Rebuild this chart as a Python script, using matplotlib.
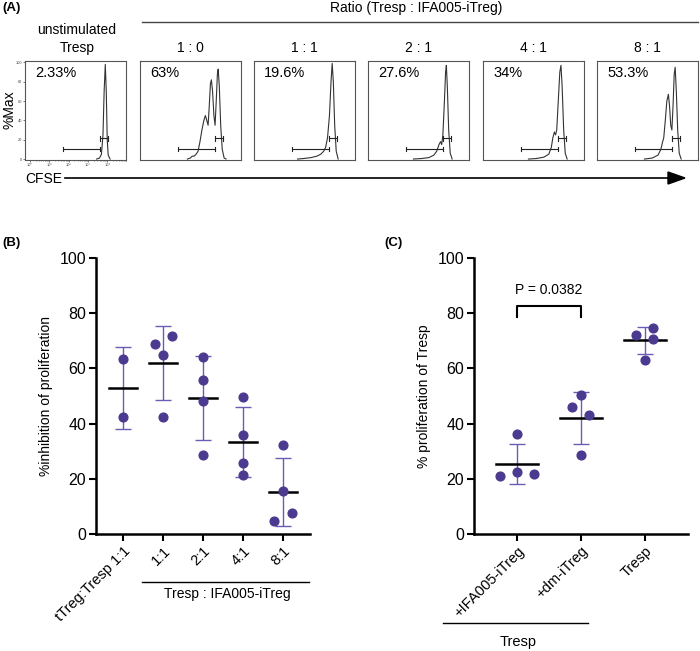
import matplotlib.pyplot as plt
import numpy as np

plt.rcParams['font.family'] = ['Liberation Sans', 'DejaVu Sans']

# ---- panel A: CFSE histograms (x in log10 units, y in %Max) ----
hist_titles = ['unstimulated\nTresp', '1 : 0', '1 : 1', '2 : 1', '4 : 1', '8 : 1']
hist_pcts = ['2.33%', '63%', '19.6%', '27.6%', '34%', '53.3%']
hist_x = [
    [3.45, 3.6, 3.7, 3.78, 3.84, 3.9, 3.95, 4.0, 4.05, 4.15],
    [2.2, 2.35, 2.45, 2.55, 2.65, 2.75, 2.85, 2.95, 3.05, 3.13, 3.2, 3.27, 3.33,
     3.39, 3.44, 3.5, 3.57, 3.63, 3.69, 3.75, 3.79, 3.85, 3.92, 4.0, 4.1, 4.2],
    [2.0, 2.3, 2.7, 3.0, 3.2, 3.35, 3.45, 3.55, 3.65, 3.73, 3.79, 3.85, 3.92, 4.0, 4.1],
    [2.1, 2.5, 2.9, 3.15, 3.3, 3.42, 3.5, 3.56, 3.62, 3.7, 3.76, 3.8, 3.85, 3.92, 4.0, 4.1],
    [2.1, 2.5, 2.9, 3.15, 3.28, 3.36, 3.44, 3.5, 3.56, 3.64, 3.72, 3.78, 3.84, 3.92, 4.0, 4.1],
    [2.2, 2.6, 2.9, 3.05, 3.13, 3.2, 3.28, 3.36, 3.44, 3.5, 3.56, 3.62, 3.68, 3.74,
     3.79, 3.85, 3.92, 4.0, 4.1],
]
hist_y = [
    [0, 1, 5, 25, 70, 98, 70, 20, 4, 0],
    [0, 1, 3, 3, 5, 8, 18, 30, 40, 45, 40, 35, 55, 78, 82, 70, 45, 35, 60, 88, 93, 75,
     35, 10, 1, 0],
    [0, 0.5, 1.5, 3, 5, 8, 12, 22, 45, 80, 99, 80, 35, 8, 0],
    [0, 0.5, 1.5, 4, 8, 15, 18, 15, 25, 60, 90, 97, 75, 30, 6, 0],
    [0, 0.5, 2, 5, 12, 22, 28, 25, 30, 60, 90, 97, 75, 30, 6, 0],
    [0, 1, 4, 10, 17, 22, 40, 60, 67, 55, 35, 30, 55, 88, 95, 70, 30, 6, 0],
]
gate_long = [1.69, 3.64]
gate_short = [3.64, 4.05]
gate_y = [10.3, 21.6]

# ---- panel B ----
b_labels = ['tTreg:Tresp 1:1', '1:1', '2:1', '4:1', '8:1']
b_points = [[63.5, 42.5], [69.0, 65.0, 71.6, 42.5], [64.1, 55.9, 48.3, 28.5],
            [49.8, 36.0, 25.6, 21.3], [32.2, 15.6, 7.6, 4.8]]
b_jitter = [[0, 0], [-0.2, 0, 0.23, 0], [0, 0, 0, 0], [0, 0, 0, 0], [0, 0, 0.22, -0.22]]

# ---- panel C ----
c_labels = ['+IFA005-iTreg', '+dm-iTreg', 'Tresp']
c_points = [[36.2, 22.5, 20.9, 21.9], [50.5, 45.9, 43.0, 28.5], [74.6, 72.2, 70.7, 63.2]]
c_jitter = [[0, 0, -0.27, 0.27], [0, -0.14, 0.13, 0], [0.13, -0.14, 0.13, 0]]

dot_color = '#4b3a8f'
err_color = '#6a5cb5'

W, H = 700, 651
fig = plt.figure(figsize=(7.0, 6.51), dpi=100)


def px_axes(x0, y0, x1, y1):
    # pixel box (top-left origin) -> figure axes
    return fig.add_axes([x0 / W, 1 - y1 / H, (x1 - x0) / W, (y1 - y0) / H])


def ftext(x, y, s, **kw):
    fig.text(x / W, 1 - y / H, s, **kw)


# panel A
box_lefts = [25, 140, 254, 368, 483, 597]
for i, left in enumerate(box_lefts):
    ax = px_axes(left, 60.5, left + 101, 160)
    ax.plot(hist_x[i], hist_y[i], color='#333333', lw=0.8)
    for (g0, g1), gy in [(gate_long, gate_y[0]), (gate_short, gate_y[1])]:
        ax.plot([g0, g1], [gy, gy], color='#222222', lw=0.8)
        ax.plot([g0, g0], [gy - 2.5, gy + 2.5], color='#222222', lw=0.8)
        ax.plot([g1, g1], [gy - 2.5, gy + 2.5], color='#222222', lw=0.8)
    ax.set_xlim(-0.25, 4.97)
    ax.set_ylim(-1, 102)
    for s in ax.spines.values():
        s.set_color('#555555')
        s.set_linewidth(0.8)
    ax.text(0.1, 0.87, hist_pcts[i], transform=ax.transAxes, fontsize=10.5,
            va='center', ha='left')
    if i == 0:
        ax.set_xticks(range(5))
        ax.set_xticklabels(['10⁰', '10¹', '10²', '10³', '10⁴'], fontsize=2.8)
        ax.set_xticks([np.log10(m) + k for k in range(5) for m in range(2, 10)
                       if np.log10(m) + k < 4.97], minor=True)
        ax.set_yticks([0, 20, 40, 60, 80, 100])
        ax.set_yticklabels(['0', '20', '40', '60', '80', '100'], fontsize=2.8)
        ax.tick_params(length=1.5, width=0.5, pad=0.8, colors='#444444')
        ax.tick_params(which='minor', length=1, width=0.4, colors='#444444')
        ftext(77, 30, 'unstimulated', ha='center', va='center', fontsize=10)
        ftext(77, 48, 'Tresp', ha='center', va='center', fontsize=10)
    else:
        ax.set_xticks([])
        ax.set_yticks([])
        ftext(left + 50.5, 48, hist_titles[i], ha='center', va='center', fontsize=10)

ftext(2, 8, '(A)', fontweight='bold', fontsize=9.5, va='center')
ftext(416, 8, 'Ratio (Tresp : IFA005-iTreg)', ha='center', va='center', fontsize=10)
fig.add_artist(plt.Line2D([142 / W, 698 / W], [1 - 22 / H, 1 - 22 / H], color='#444444', lw=1))
ftext(10, 110, '%Max', rotation=90, ha='center', va='center', fontsize=10)
ftext(25, 179, 'CFSE', ha='left', va='center', fontsize=10)
fig.add_artist(plt.Line2D([65 / W, 670 / W], [1 - 178 / H, 1 - 178 / H], color='black', lw=1.2))
fig.add_artist(plt.Polygon([[668 / W, 1 - 172 / H], [685 / W, 1 - 178 / H], [668 / W, 1 - 184 / H]],
                           closed=True, color='black'))


def scatter_panel(ax, points, jitter, half):
    for i, vals in enumerate(points):
        vals = np.array(vals)
        xs = i + np.array(jitter[i])
        m = vals.mean()
        sd = vals.std(ddof=1)
        ax.errorbar(i, m, yerr=sd, fmt='none', ecolor=err_color, elinewidth=1,
                    capsize=5.5, capthick=1, zorder=2)
        ax.plot([i - half, i + half], [m, m], color='black', lw=1.8, zorder=3)
        ax.plot(xs, vals, 'o', color=dot_color, ms=6.3, zorder=4)
    ax.set_ylim(0, 100)
    ax.set_yticks([0, 20, 40, 60, 80, 100])
    ax.tick_params(labelsize=11.5, width=1.5, length=5, pad=2)
    for s in ['top', 'right']:
        ax.spines[s].set_visible(False)
    for s in ['left', 'bottom']:
        ax.spines[s].set_linewidth(1.8)


# panel B
axb = px_axes(96, 258, 310, 534)
scatter_panel(axb, b_points, b_jitter, 0.35)
axb.set_xlim(-0.67, 4.67)
axb.set_xticks(range(len(b_labels)))
axb.set_xticklabels(b_labels, rotation=45, ha='right', rotation_mode='anchor', fontsize=10.5)
axb.set_ylabel('%inhibition of proliferation', fontsize=10, labelpad=5)
ftext(2, 243, '(B)', fontweight='bold', fontsize=9.5, va='center')
fig.add_artist(plt.Line2D([142 / W, 309 / W], [1 - 582 / H, 1 - 582 / H], color='black', lw=1))
ftext(227, 594, 'Tresp : IFA005-iTreg', ha='center', va='center', fontsize=10)

# panel C
axc = px_axes(474, 258, 688, 534)
scatter_panel(axc, c_points, c_jitter, 0.33)
axc.set_xlim(-0.67, 2.67)
axc.set_xticks(range(len(c_labels)))
axc.set_xticklabels(c_labels, rotation=45, ha='right', rotation_mode='anchor', fontsize=10.5)
axc.set_ylabel('% proliferation of Tresp', fontsize=10, labelpad=5)
axc.plot([0, 0, 1, 1], [78.6, 82.5, 82.5, 78.6], color='black', lw=1.5)
axc.text(0.5, 86, 'P = 0.0382', ha='center', va='bottom', fontsize=10)
ftext(384, 243, '(C)', fontweight='bold', fontsize=9.5, va='center')
fig.add_artist(plt.Line2D([443 / W, 588 / W], [1 - 623 / H, 1 - 623 / H], color='black', lw=1))
ftext(518, 642, 'Tresp', ha='center', va='center', fontsize=10.5)

fig.savefig('out.png', dpi=100)
